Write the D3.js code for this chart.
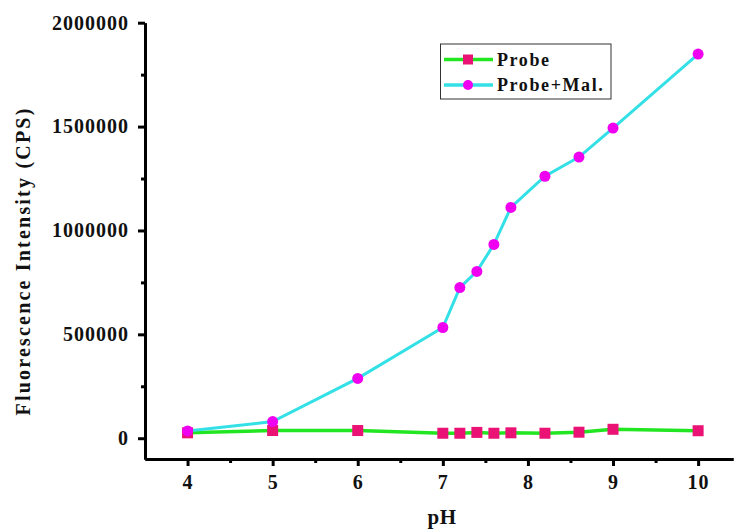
<!DOCTYPE html>
<html>
<head>
<meta charset="utf-8">
<script src="https://cdn.jsdelivr.net/npm/d3@7"></script>
<style>
  body { margin: 0; background: #fff; }
  text { font-family: "Liberation Serif", "Times New Roman", serif; font-weight: bold; }
</style>
</head>
<body>
<svg id="chart" width="734" height="530"></svg>
<script>
// pH values and intensities
var phValues = [4, 5, 6, 7, 7.2, 7.4, 7.6, 7.8, 8.2, 8.6, 9, 10]
var probe = [26000, 37000, 37000, 24000, 24000, 28000, 24000, 26000, 24000, 29000, 43000, 36000]
var probeMal = [35000, 80000, 288000, 533000, 725000, 803000, 933000, 1111000, 1261000, 1353000, 1493000, 1849000]
var xTicks = [4, 5, 6, 7, 8, 9, 10]
var xMinor = [4.5, 5.5, 6.5, 7.5, 8.5, 9.5]
var yTicks = [0, 500000, 1000000, 1500000, 2000000]
var yMinor = [250000, 750000, 1250000, 1750000]
var seriesNames = ["Probe", "Probe+Mal."]

var svg = d3.select("#chart")

var x = d3.scaleLinear().domain([3.5, 10.41]).range([145, 733])
var y = d3.scaleLinear().domain([-100000, 2000000]).range([459, 22.7])

// minor ticks first, then the major axes on top
svg.append("g")
    .attr("transform", "translate(0,459)")
    .call(d3.axisBottom(x).tickValues(xMinor).tickSize(4).tickSizeOuter(0).tickFormat(""))
svg.append("g")
    .attr("transform", "translate(145,0)")
    .call(d3.axisLeft(y).tickValues(yMinor).tickSize(4).tickSizeOuter(0).tickFormat(""))

svg.append("g")
    .attr("transform", "translate(0,459)")
    .call(d3.axisBottom(x).tickValues(xTicks).tickSize(7).tickPadding(9).tickSizeOuter(0)
        .tickFormat(d3.format("d")))

svg.append("g")
    .attr("transform", "translate(145,0)")
    .call(d3.axisLeft(y).tickValues(yTicks).tickSize(7).tickPadding(9).tickSizeOuter(0)
        .tickFormat(d3.format("d")))

svg.selectAll(".tick line, .domain")
    .attr("stroke", "#000")
    .attr("stroke-width", 3)

svg.selectAll(".tick text")
    .attr("fill", "#111")
    .style("font-size", "20px")
    .style("letter-spacing", "1px")

// lines
var line = function(vals) {
    return d3.line()
        .x(function(d, i) { return x(phValues[i]) })
        .y(function(d) { return y(d) })(vals)
}

svg.append("path")
    .attr("d", line(probe))
    .attr("fill", "none")
    .attr("stroke", "#22e622")
    .attr("stroke-width", 3.5)

svg.append("path")
    .attr("d", line(probeMal))
    .attr("fill", "none")
    .attr("stroke", "#33e0e6")
    .attr("stroke-width", 3)

svg.selectAll(".sq")
    .data(probe)
    .enter()
    .append("rect")
    .attr("class", "sq")
    .attr("x", function(d, i) { return x(phValues[i]) - 5.5 })
    .attr("y", function(d) { return y(d) - 5.5 })
    .attr("width", 11)
    .attr("height", 11)
    .attr("fill", "#ea1274")

svg.selectAll(".dot")
    .data(probeMal)
    .enter()
    .append("circle")
    .attr("class", "dot")
    .attr("cx", function(d, i) { return x(phValues[i]) })
    .attr("cy", function(d) { return y(d) })
    .attr("r", 5.5)
    .attr("fill", "#f000f0")

// axis titles
svg.append("text")
    .attr("x", 442)
    .attr("y", 524)
    .attr("text-anchor", "middle")
    .style("font-size", "21px")
    .style("letter-spacing", "0.5px")
    .attr("fill", "#111")
    .text("pH")

svg.append("text")
    .attr("transform", "translate(30,261) rotate(-90)")
    .attr("text-anchor", "middle")
    .style("font-size", "20px")
    .style("letter-spacing", "2.2px")
    .attr("fill", "#111")
    .text("Fluorescence Intensity (CPS)")

// legend
var legend = svg.append("g")
legend.append("rect")
    .attr("x", 440.5)
    .attr("y", 44)
    .attr("width", 170.5)
    .attr("height", 55)
    .attr("fill", "#fff")
    .attr("stroke", "#333")
    .attr("stroke-width", 1)

var rows = [
    { name: seriesNames[0], line: "#22e622", mark: "#ea1274", square: true, cy: 59.5 },
    { name: seriesNames[1], line: "#33e0e6", mark: "#f000f0", square: false, cy: 85 }
]

rows.forEach(function(r) {
    legend.append("line")
        .attr("x1", 444).attr("x2", 493)
        .attr("y1", r.cy).attr("y2", r.cy)
        .attr("stroke", r.line)
        .attr("stroke-width", 3.5)
    if (r.square) {
        legend.append("rect")
            .attr("x", 463).attr("y", r.cy - 5)
            .attr("width", 10).attr("height", 10)
            .attr("fill", r.mark)
    } else {
        legend.append("circle")
            .attr("cx", 468).attr("cy", r.cy)
            .attr("r", 5)
            .attr("fill", r.mark)
    }
    legend.append("text")
        .attr("x", 497)
        .attr("y", r.cy + 6)
        .style("font-size", "18px")
        .style("letter-spacing", "1.6px")
        .attr("fill", "#111")
        .text(r.name)
})
</script>
</body>
</html>
